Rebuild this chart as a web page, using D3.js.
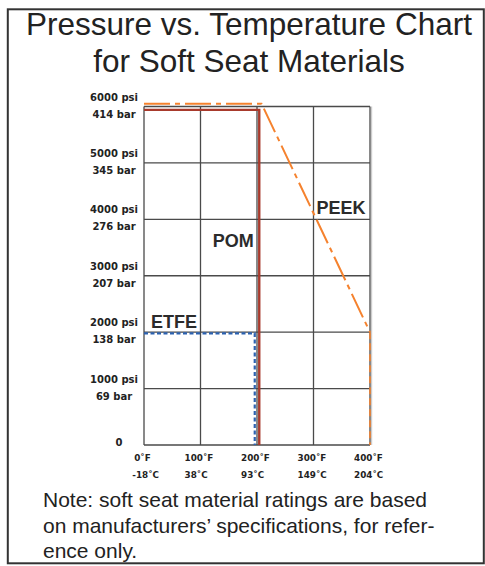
<!DOCTYPE html>
<html>
<head>
<meta charset="utf-8">
<script src="https://cdn.jsdelivr.net/npm/d3@7"></script>
<style>
  html, body { margin: 0; padding: 0; background: #fff; }
  svg { display: block; }
</style>
</head>
<body>
<script>
const width = 485;
const height = 566;

// axis ticks
const tempTicks = [0, 100, 200, 300, 400];
const tempF = ['0˚F', '100˚F', '200˚F', '300˚F', '400˚F'];
const tempC = ['-18˚C', '38˚C', '93˚C', '149˚C', '204˚C'];
const psiTicks = [0, 1000, 2000, 3000, 4000, 5000, 6000];
const psiLabels = ['0', '1000 psi', '2000 psi', '3000 psi', '4000 psi', '5000 psi', '6000 psi'];
const barLabels = ['', '69 bar', '138 bar', '207 bar', '276 bar', '345 bar', '414 bar'];

// material ratings (temperature °F, pressure psi)
const peekTemp = [0, 208, 400];
const peekPsi = [6050, 6050, 2000];
const peekDropTemp = [400, 400];
const peekDropPsi = [2000, 0];
const pomTemp = [0, 204, 204];
const pomPsi = [5940, 5940, 0];
const etfeTemp = [0, 196, 196];
const etfePsi = [1980, 1980, 0];

const title = ['Pressure vs. Temperature Chart', 'for Soft Seat Materials'];
const note = [
  'Note: soft seat material ratings are based',
  'on manufacturers\u2019 specifications, for refer-',
  'ence only.'
];

const x = d3.scaleLinear().domain([0, 400]).range([144, 370]);
const y = d3.scaleLinear().domain([0, 6000]).range([445, 106.5]);

const svg = d3.select('body').append('svg')
  .attr('width', width)
  .attr('height', height);

// outer frame
svg.append('rect')
  .attr('x', 7.8).attr('y', 9.3)
  .attr('width', 476).attr('height', 554)
  .attr('fill', 'none')
  .attr('stroke', '#333')
  .attr('stroke-width', 2);

svg.append('g').selectAll('text')
  .data(title)
  .join('text')
  .attr('x', 249)
  .attr('y', (d, i) => 35 + i * 36.5)
  .attr('text-anchor', 'middle')
  .attr('font-family', '"Liberation Sans", Arial, sans-serif')
  .attr('font-size', 31.5)
  .attr('fill', '#222')
  .text(d => d);

// grid
const grid = svg.append('g').attr('stroke', '#4a4a4a').attr('stroke-width', 1.3);
grid.selectAll('.v')
  .data(tempTicks)
  .join('line')
  .attr('x1', d => x(d)).attr('x2', d => x(d))
  .attr('y1', y(0)).attr('y2', y(6000));
grid.selectAll('.h')
  .data(psiTicks)
  .join('line')
  .attr('x1', x(0)).attr('x2', x(400))
  .attr('y1', d => y(d)).attr('y2', d => y(d));

// light shadow on the right edge
svg.append('line')
  .attr('x1', x(400) + 1.6).attr('x2', x(400) + 1.6)
  .attr('y1', y(6000)).attr('y2', y(0))
  .attr('stroke', '#ccc').attr('stroke-width', 1.2);

// y labels
const ylab = svg.append('g')
  .attr('font-family', '"DejaVu Sans", Verdana, sans-serif')
  .attr('font-weight', 'bold')
  .attr('font-size', 10)
  .attr('fill', '#222')
  .attr('text-anchor', 'middle');
ylab.selectAll('.psi')
  .data(psiTicks)
  .join('text')
  .attr('x', d => d === 0 ? 119 : 114)
  .attr('y', d => d === 0 ? y(d) + 1 : y(d) - 6)
  .text((d, i) => psiLabels[i]);
ylab.selectAll('.bar')
  .data(psiTicks)
  .join('text')
  .attr('x', 114)
  .attr('y', d => y(d) + 11)
  .text((d, i) => barLabels[i]);

// x labels
const xlab = svg.append('g')
  .attr('font-family', '"DejaVu Sans", Verdana, sans-serif')
  .attr('font-weight', 'bold')
  .attr('font-size', 8.8)
  .attr('fill', '#222');
xlab.selectAll('g')
  .data(tempTicks)
  .join('g')
  .each(function(d, i) {
    const g = d3.select(this);
    const f = g.append('text')
      .attr('y', 461)
      .text(tempF[i]);
    const w = f.node().getComputedTextLength();
    const left = x(d) - 1.5 - w / 2;
    f.attr('x', left);
    g.append('text')
      .attr('x', left - (i === 0 ? 2 : 0))
      .attr('y', 478)
      .text(tempC[i]);
  });

const line = d3.line().x(d => x(d[0])).y(d => y(d[1]));
const pts = (t, p) => t.map((v, i) => [v, p[i]]);

svg.append('path')
  .datum(pts(etfeTemp, etfePsi))
  .attr('d', line)
  .attr('fill', 'none')
  .attr('stroke', '#2c62b0')
  .attr('stroke-width', 2.2)
  .attr('stroke-dasharray', '4,2.5');

svg.append('path')
  .datum(pts(pomTemp, pomPsi))
  .attr('d', line)
  .attr('fill', 'none')
  .attr('stroke', '#a83a2c')
  .attr('stroke-width', 2.4);

svg.append('path')
  .datum(pts(peekTemp, peekPsi))
  .attr('d', line)
  .attr('fill', 'none')
  .attr('stroke', '#f5822e')
  .attr('stroke-width', 2)
  .attr('stroke-dasharray', '26,5,5,5');

svg.append('path')
  .datum(pts(peekDropTemp, peekDropPsi))
  .attr('d', line)
  .attr('fill', 'none')
  .attr('stroke', '#f5822e')
  .attr('stroke-width', 1.6)
  .attr('stroke-dasharray', '7,4');

// series labels
const names = svg.append('g')
  .attr('font-family', '"Liberation Sans", Arial, sans-serif')
  .attr('font-weight', 'bold')
  .attr('font-size', 18)
  .attr('fill', '#2b2b2b');
names.append('text').attr('x', x(305.5)).attr('y', y(4095)).text('PEEK');
names.append('text').attr('x', x(121.5)).attr('y', y(3515)).text('POM');
names.append('text').attr('x', x(12.5)).attr('y', y(2075)).text('ETFE');

svg.append('g').selectAll('text')
  .data(note)
  .join('text')
  .attr('x', 43)
  .attr('y', (d, i) => 507 + i * 25.5)
  .attr('font-family', '"Liberation Sans", Arial, sans-serif')
  .attr('font-size', 21)
  .attr('fill', '#222')
  .text(d => d);
</script>
</body>
</html>
